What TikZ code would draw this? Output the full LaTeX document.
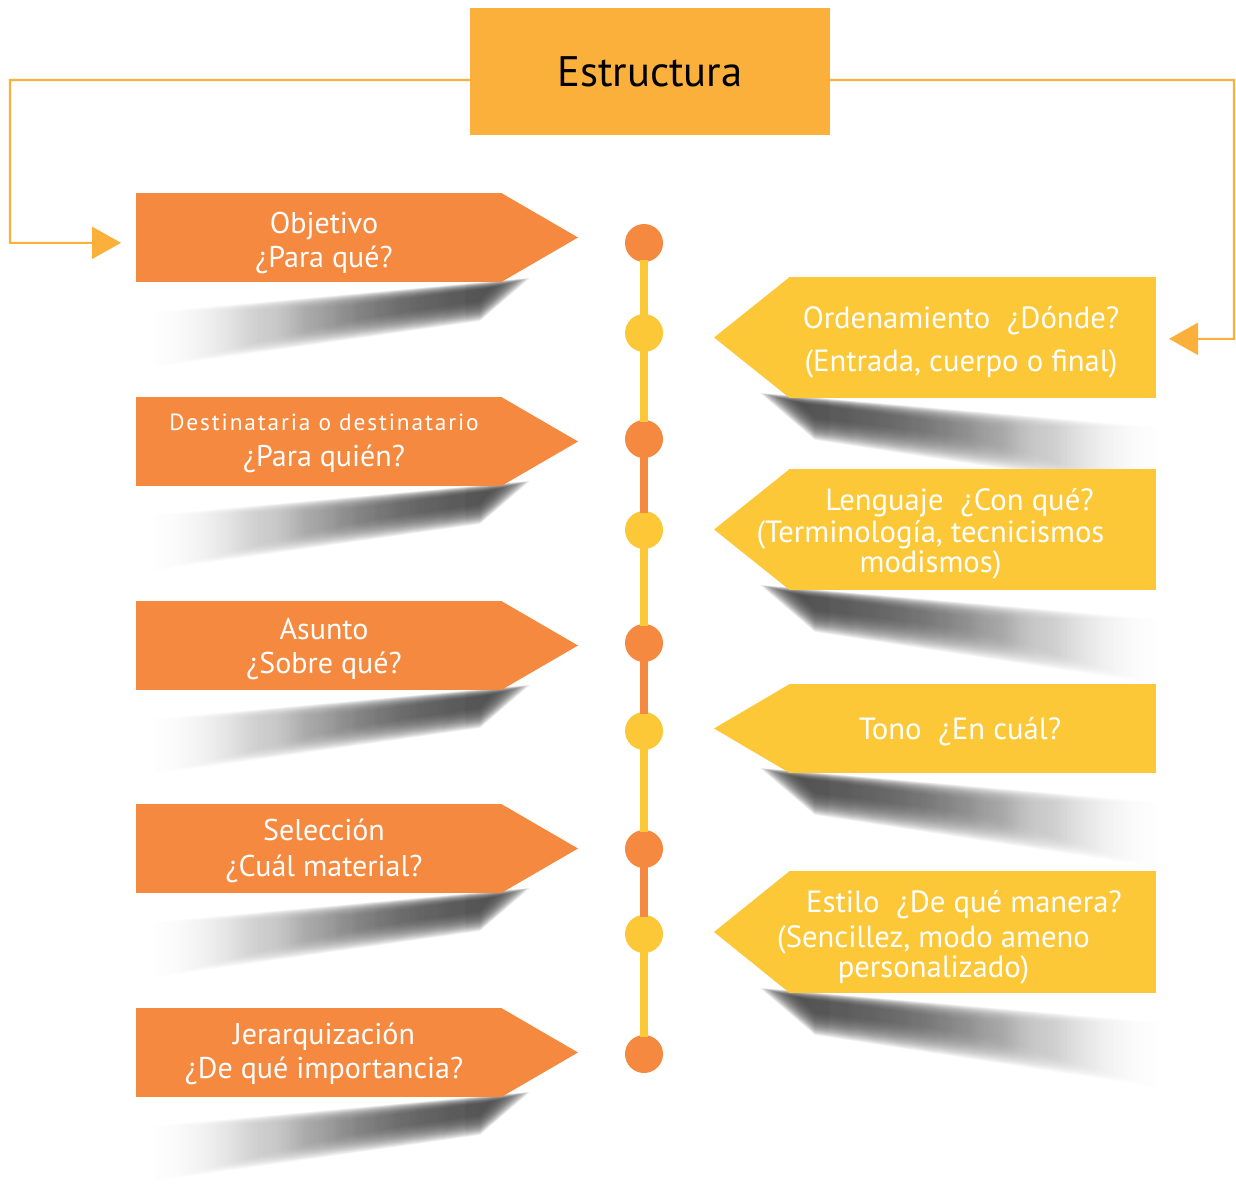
\documentclass[tikz,border=0pt]{standalone}
\usepackage{fontspec}
\setmainfont{PT Sans}
\usetikzlibrary{arrows.meta,calc,fadings}

\definecolor{orangeC}{RGB}{245,137,64}
\definecolor{yellowC}{RGB}{252,200,56}
\definecolor{titleC}{RGB}{251,176,59}

\tikzfading[name=fadetoleft, left color=transparent!100, right color=transparent!0]
\tikzfading[name=fadetoright, left color=transparent!0, right color=transparent!100]

\tikzset{
  titlebox/.style={fill=titleC, minimum width=270pt, minimum height=95.25pt, inner sep=0pt, outer sep=0pt, font=\fontsize{32}{38}\selectfont},
  leftbox/.style={fill=orangeC, minimum width=274.5pt, minimum height=66.75pt, inner sep=0pt, outer sep=0pt},
  rightbox/.style={fill=yellowC, minimum width=275.25pt, inner sep=0pt, outer sep=0pt},
  lefttext/.style={text=white, align=center, inner sep=0pt, font=\fontsize{22.5}{25.5}\selectfont},
  righttext/.style={text=white, align=center, inner sep=0pt, font=\fontsize{23}{18.75}\selectfont},
  dotO/.style={circle, fill=orangeC, minimum size=28.5pt, inner sep=0pt},
  dotY/.style={circle, fill=yellowC, minimum size=28.5pt, inner sep=0pt},
  segO/.style={draw=orangeC, line width=5.5pt, shorten <=-2pt, shorten >=-2pt},
  segY/.style={draw=yellowC, line width=5.5pt, shorten <=-2pt, shorten >=-2pt},
  conn/.style={draw=titleC, line width=1.6pt, -{Triangle[length=21.75pt,width=24pt]}},
  shadowL/.style={fill=black!75, fill opacity=0.06, path fading=fadetoleft},
  shadowR/.style={fill=black!75, fill opacity=0.06, path fading=fadetoright},
}

\begin{document}
\begin{tikzpicture}[x=0.75pt,y=0.75pt,yscale=-1,xscale=1]
\useasboundingbox (0,0) rectangle (1236,1188);

%Shadows under the left boxes
\foreach \yb in {283,486,690,893,1097}{
  \foreach \k in {0,...,40}{
    \fill[shadowL] ($(530,\yb-5)!\k/40!(490,\yb+5)$) -- ($(140,\yb+30)!\k/40!(330,\yb+26)$) -- ($(150,\yb+85)!\k/40!(330,\yb+40)$) -- ($(480,\yb+38)!\k/40!(480,\yb+18)$) -- cycle;
  }
}
%Shadows under the right boxes
\foreach \yb in {398,590,773,993}{
  \foreach \k in {0,...,40}{
    \fill[shadowR] ($(760,\yb-5)!\k/40!(800,\yb+5)$) -- ($(1170,\yb+30)!\k/40!(990,\yb+30)$) -- ($(1160,\yb+95)!\k/40!(990,\yb+42)$) -- ($(815,\yb+42)!\k/40!(815,\yb+20)$) -- cycle;
  }
}

%Shape: Title box
\node[titlebox] (title) at (650,71.5) {Estructura};

%Shape: Left arrow boxes
\node[leftbox] (obj) at (319,237.5) {};
\node[leftbox] (des) at (319,441.5) {};
\node[leftbox] (asu) at (319,645.5) {};
\node[leftbox] (sel) at (319,848.5) {};
\node[leftbox] (jer) at (319,1052.5) {};
\foreach \n in {obj,des,asu,sel,jer}
  \fill[orangeC] ([xshift=-0.5pt]\n.north east) -- ($(\n.east)+(76,0)$) -- ([xshift=-0.5pt]\n.south east) -- cycle;

%Shape: Right arrow boxes
\node[rightbox, minimum height=90.75pt] (ord) at (972.5,337.5) {};
\node[rightbox, minimum height=90.75pt] (len) at (972.5,529.5) {};
\node[rightbox, minimum height=66.75pt] (ton) at (972.5,728.5) {};
\node[rightbox, minimum height=91.5pt] (est) at (972.5,932) {};
\foreach \n in {ord,len,ton,est}
  \fill[yellowC] ([xshift=0.5pt]\n.north west) -- ($(\n.west)+(-75,0)$) -- ([xshift=0.5pt]\n.south west) -- cycle;

%Timeline dots
\foreach \i/\y/\s in {1/243/dotO,2/333/dotY,3/439/dotO,4/530/dotY,5/643/dotO,6/731/dotY,7/849/dotO,8/934/dotY,9/1054/dotO}
  \node[\s] (d\i) at (644,\y) {};
%Timeline segments
\foreach \a/\b/\s in {1/2/segY,2/3/segY,3/4/segO,4/5/segY,5/6/segO,6/7/segY,7/8/segO,8/9/segY}
  \draw[\s] (d\a) -- (d\b);

%Connectors from the title
\coordinate (lturn) at (10,80);
\coordinate (rturn) at (1234,80);
\draw[conn] ([yshift=6.4pt]title.west) -- (lturn) |- ([xshift=-11.25pt,yshift=4pt]obj.west);
\draw[conn] ([yshift=6.4pt]title.east) -- (rturn) |- ([xshift=9.75pt,yshift=1pt]ord.east);

% Text Node
\node[lefttext] (obj-t) at (324,242.5) {Objetivo\\¿Para qué?};
% Text Node
\node[lefttext] (des-t) at (324,443.5) {{\addfontfeature{LetterSpace=8}\fontsize{17.5}{25}\selectfont Destinataria o destinatario}\\[2pt]¿Para quién?};
% Text Node
\node[lefttext] (asu-t) at (324,649.5) {Asunto\\¿Sobre qué?};
% Text Node
\node[lefttext] (sel-t) at (324,851) {Selección\\[2pt]¿Cuál material?};
% Text Node
\node[lefttext] (jer-t) at (324,1054) {Jerarquización\\¿De qué importancia?};
% Text Node
\node[righttext] (ord-a) at (961,321) {Ordenamiento\hspace{0.55em}¿Dónde?};
% Text Node
\node[righttext] (ord-b) at (961,364) {(Entrada, cuerpo o final)};
% Text Node
\node[righttext] (len-a) at (959.5,503) {Lenguaje\hspace{0.55em}¿Con qué?};
% Text Node
\node[righttext] (len-b) at (930.5,550) {(Terminología, tecnicismos\\modismos)};
% Text Node
\node[righttext] (ton-a) at (960,732) {Tono\hspace{0.55em}¿En cuál?};
% Text Node
\node[righttext] (est-a) at (964,905) {Estilo\hspace{0.55em}¿De qué manera?};
% Text Node
\node[righttext] (est-b) at (933.5,955) {(Sencillez, modo ameno\\personalizado)};

\end{tikzpicture}
\end{document}
